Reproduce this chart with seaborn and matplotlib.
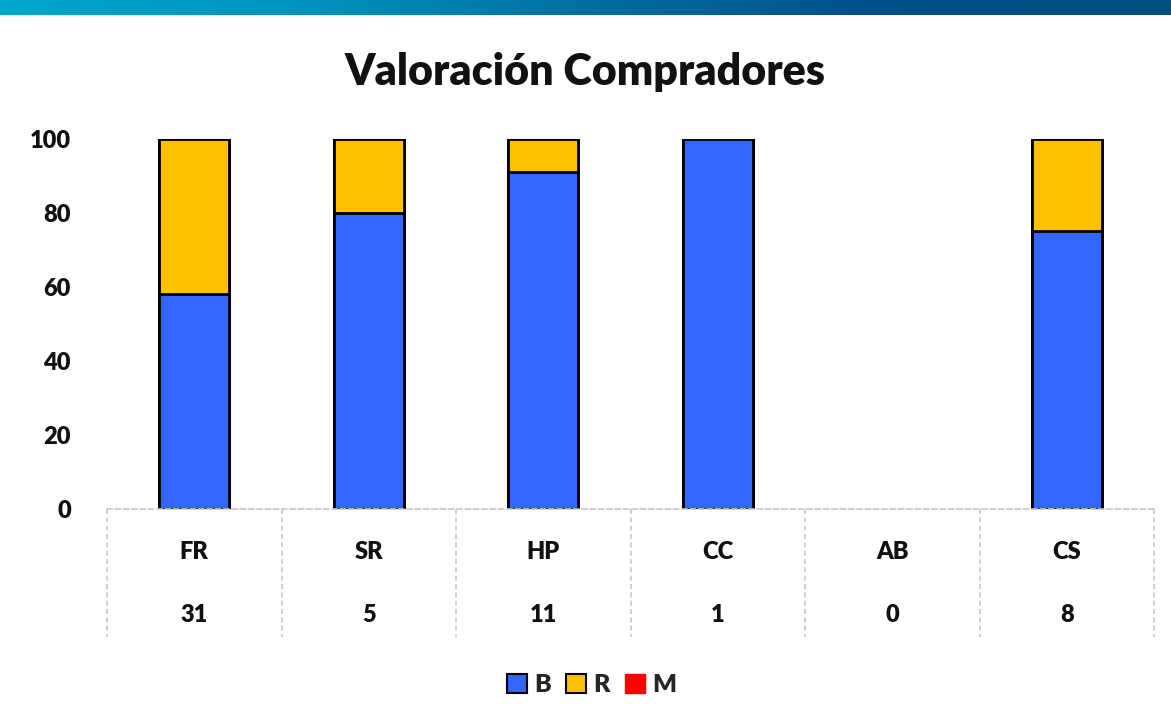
import matplotlib
matplotlib.use("Agg")
import matplotlib.pyplot as plt
import matplotlib.transforms as mtransforms
from matplotlib.patches import Patch
import seaborn as sns
import numpy as np
import pandas as pd

# datos
categorias = ["FR", "SR", "HP", "CC", "AB", "CS"]
n_compradores = [31, 5, 11, 1, 0, 8]
pct_B = [58, 80, 91, 100, 0, 75]
pct_R = [42, 20, 9, 0, 0, 25]
pct_M = [0, 0, 0, 0, 0, 0]

azul = "#3366FF"
amarillo = "#FFC000"
rojo = "#FF0000"
texto = "#111111"

sns.set_theme(style="white")
plt.rcParams["font.family"] = ["Lato", "DejaVu Sans"]

df = pd.DataFrame({"cat": categorias, "B": pct_B, "R": pct_R, "M": pct_M})
df["BR"] = df["B"] + df["R"]
df["total"] = df["BR"] + df["M"]

fig = plt.figure(figsize=(11.71, 7.24), dpi=100)
ax = fig.add_axes([0.0914, 0.297, 0.8941, 0.511])

# barras apiladas: primero el total, luego las capas inferiores encima
sns.barplot(data=df, x="cat", y="total", color=rojo, width=0.4,
            edgecolor="black", linewidth=2, saturation=1, ax=ax)
sns.barplot(data=df, x="cat", y="BR", color=amarillo, width=0.4,
            edgecolor="black", linewidth=2, saturation=1, ax=ax)
sns.barplot(data=df, x="cat", y="B", color=azul, width=0.4,
            edgecolor="black", linewidth=2, saturation=1, ax=ax)
for p in ax.patches:
    if p.get_height() == 0:
        p.set_visible(False)

ax.set_xlim(-0.5, len(categorias) - 0.5)
ax.set_ylim(0, 100)
ax.set_yticks(range(0, 101, 20))
ax.set_yticklabels([str(v) for v in range(0, 101, 20)], fontsize=17,
                   fontweight="heavy", color=texto)
ax.tick_params(axis="y", length=0, pad=26)
ax.set_xticks([])
ax.set_xlabel("")
ax.set_ylabel("")
for s in ["left", "right", "top"]:
    ax.spines[s].set_visible(False)
ax.spines["bottom"].set_color("#C8C8C8")
ax.spines["bottom"].set_linestyle((0, (3, 2)))
ax.spines["bottom"].set_linewidth(1.2)

# tabla de categorías bajo el eje
trans = mtransforms.blended_transform_factory(ax.transData, ax.transAxes)
for i in range(len(categorias) + 1):
    ax.plot([i - 0.5, i - 0.5], [0, -0.345], transform=trans, clip_on=False,
            color="#C8C8C8", linestyle=(0, (3, 2)), linewidth=1.2)
for i, (c, n) in enumerate(zip(categorias, n_compradores)):
    ax.text(i, -0.116, c, transform=trans, ha="center", va="center",
            fontsize=17, fontweight="heavy", color=texto)
    ax.text(i, -0.286, str(n), transform=trans, ha="center", va="center",
            fontsize=17, fontweight="heavy", color=texto)

fig.text(0.5, 0.9, "Valoración Compradores", ha="center", va="center",
         fontsize=31, fontweight="heavy", color=texto)

# franja superior con degradado
band = fig.add_axes([0, 1 - 15 / 724, 1, 15 / 724])
grad = np.linspace(0, 1, 256).reshape(1, -1)
cmap = matplotlib.colors.LinearSegmentedColormap.from_list(
    "banda", ["#00A6CC", "#0094C0", "#006FA0", "#00508A", "#005080"])
band.imshow(grad, aspect="auto", cmap=cmap)
band.axis("off")

handles = [Patch(facecolor=azul, edgecolor="black", linewidth=1.5, label="B"),
           Patch(facecolor=amarillo, edgecolor="black", linewidth=1.5, label="R"),
           Patch(facecolor=rojo, edgecolor=rojo, label="M")]
fig.legend(handles=handles, loc="center", bbox_to_anchor=(0.505, 0.054), ncol=3,
           frameon=False, handlelength=0.8, handleheight=0.8, handletextpad=0.3,
           columnspacing=0.6, prop={"size": 18, "weight": "heavy"})

fig.savefig("out.png", dpi=100)
